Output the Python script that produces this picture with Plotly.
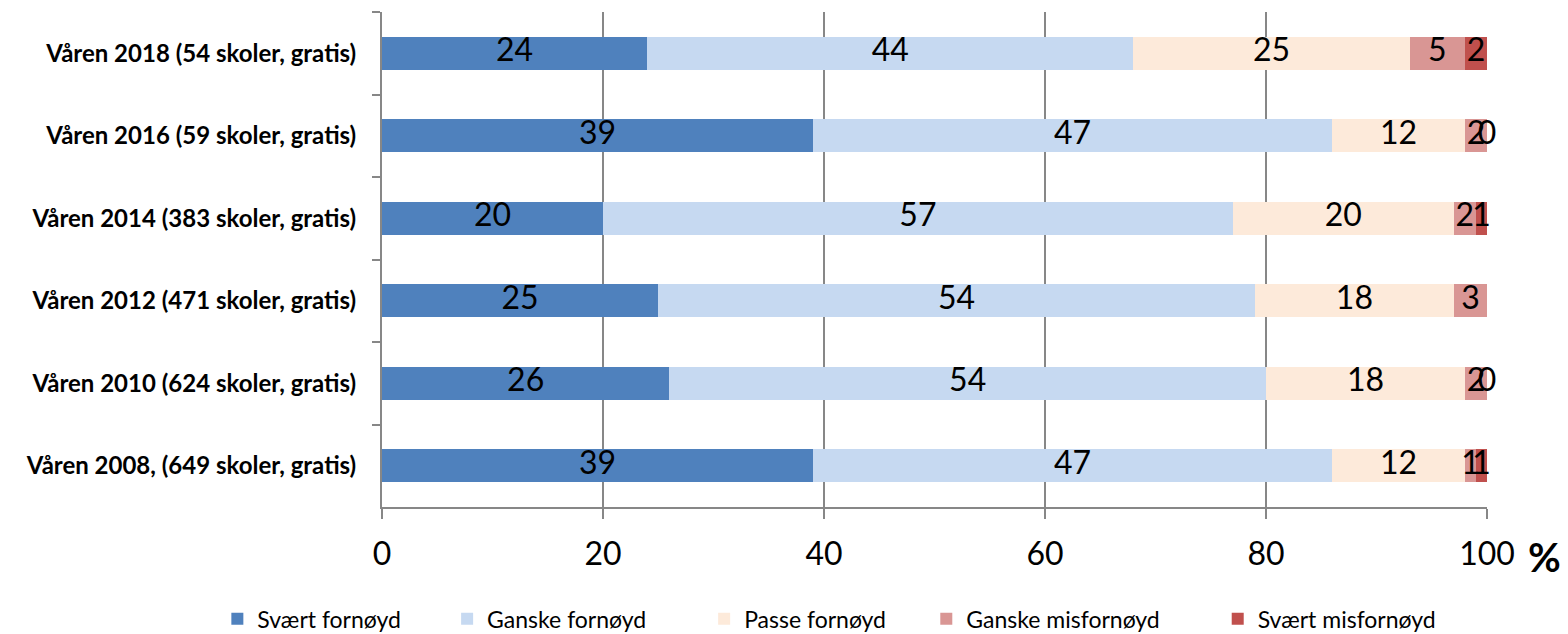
import plotly.graph_objects as go

categories = [
    "Våren 2018 (54 skoler, gratis)",
    "Våren 2016 (59 skoler, gratis)",
    "Våren 2014 (383 skoler, gratis)",
    "Våren 2012 (471 skoler, gratis)",
    "Våren 2010 (624 skoler, gratis)",
    "Våren 2008, (649 skoler, gratis)",
]
series_names = ["Svært fornøyd", "Ganske fornøyd", "Passe fornøyd", "Ganske misfornøyd", "Svært misfornøyd"]
svaert_fornoyd = [24, 39, 20, 25, 26, 39]
ganske_fornoyd = [44, 47, 57, 54, 54, 47]
passe_fornoyd = [25, 12, 20, 18, 18, 12]
ganske_misfornoyd = [5, 2, 2, 3, 2, 1]
svaert_misfornoyd = [2, 0, 1, None, 0, 1]
colors = ["#4F81BD", "#C6D9F1", "#FDEADA", "#D99694", "#C0504D"]
x_ticks = [0, 20, 40, 60, 80, 100]

series = [svaert_fornoyd, ganske_fornoyd, passe_fornoyd, ganske_misfornoyd, svaert_misfornoyd]

FONT = "Lato"
legend_pad = [7, 9, 6, 9, 0]  # trailing spacing after legend entries
fig = go.Figure()
for name, vals, col, pad in zip(series_names, series, colors, legend_pad):
    fig.add_trace(go.Bar(
        y=categories, x=vals, name=name + "\u00a0" * pad, orientation="h",
        marker=dict(color=col, line=dict(width=0)),
    ))

# data labels at segment centres
cum = [0] * len(categories)
for vals in series:
    xs, ys, ts = [], [], []
    for i, v in enumerate(vals):
        if v is None:
            continue
        xs.append(cum[i] + v / 2)
        ys.append(categories[i])
        ts.append(str(v))
        cum[i] += v
    fig.add_trace(go.Scatter(
        x=xs, y=ys, text=ts, mode="text", textposition="middle center",
        textfont=dict(family=FONT, size=32, color="black"),
        showlegend=False, hoverinfo="skip", cliponaxis=False,
    ))

fig.update_layout(
    barmode="stack",
    bargap=0.6,
    width=1560, height=626,
    margin=dict(l=374, r=81, t=4, b=127, autoexpand=False),
    plot_bgcolor="white", paper_bgcolor="white",
    font=dict(family=FONT, color="black"),
    legend=dict(
        orientation="h", x=-0.149, xanchor="left", y=-0.226, yanchor="middle",
        font=dict(family=FONT, size=23, color="black"),
        itemwidth=30, traceorder="normal",
    ),
    annotations=[dict(
        text="<b>%</b>", xref="paper", yref="paper", x=1.052, y=-0.10,
        xanchor="center", yanchor="middle", showarrow=False,
        font=dict(family=FONT, size=40, color="black"),
    )],
)
fig.update_xaxes(
    range=[0, 100], tickvals=x_ticks, ticktext=[str(t) for t in x_ticks],
    showgrid=True, gridcolor="#878787", gridwidth=2,
    showline=True, linecolor="#878787", linewidth=2,
    ticks="outside", ticklen=10, tickcolor="#878787", tickwidth=2,
    tickfont=dict(family=FONT, size=32, color="black"),
    ticklabelstandoff=8, zeroline=False,
)
fig.update_yaxes(
    autorange="reversed",
    showline=True, linecolor="#878787", linewidth=2,
    ticks="outside", ticklen=8, tickcolor="#878787", tickwidth=2,
    tickson="boundaries",
    tickfont=dict(family=FONT, size=24, color="black", weight="bold"),
    ticklabelstandoff=19, showgrid=False,
)

fig.write_html("out.html")
